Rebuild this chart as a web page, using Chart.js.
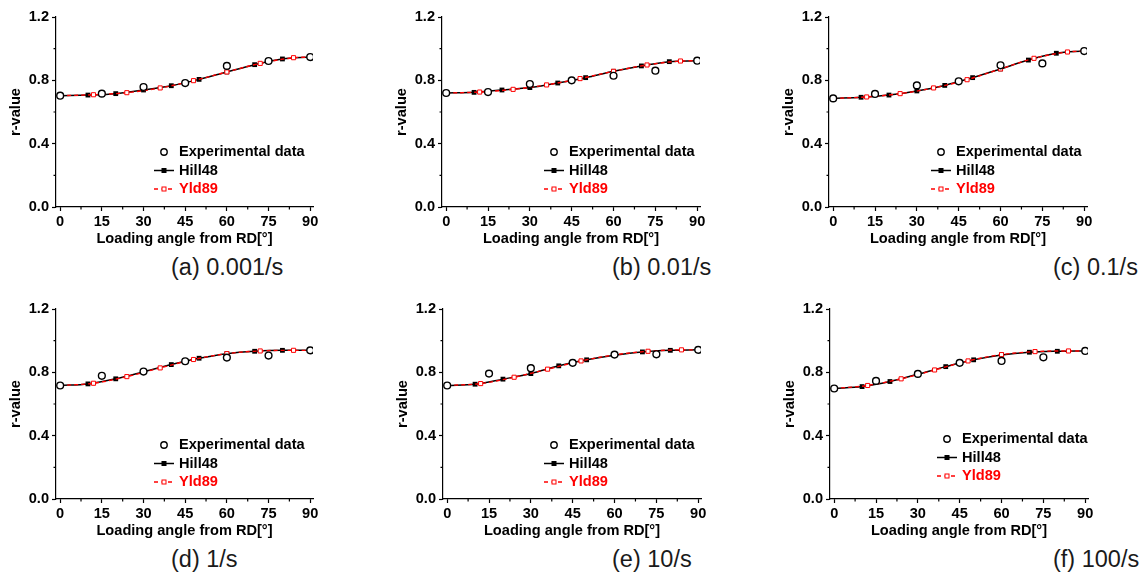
<!DOCTYPE html>
<html>
<head>
<meta charset="utf-8">
<script src="https://cdn.jsdelivr.net/npm/chart.js@4.4.1/dist/chart.umd.min.js"></script>
<style>
  body { margin: 0; background: #fff; width: 1148px; height: 576px; position: relative; overflow: hidden; }
  .panel { position: absolute; }
  .cap { position: absolute; font: 23.5px "Liberation Sans", Arial, sans-serif; color: #1a1a1a; white-space: nowrap; line-height: 24px; }
</style>
</head>
<body>
<script>
// loading angles (deg)
const angleExp = [0, 15, 30, 45, 60, 75, 90]
const angleHill = [0, 10, 20, 30, 40, 50, 60, 70, 80, 90]
const angleYld = [0, 12, 24, 36, 48, 60, 72, 84, 90]
const xTicks = [0, 15, 30, 45, 60, 75, 90]
const yTicks = [0, 0.4, 0.8, 1.2]
const captions = ['(a) 0.001/s', '(b) 0.01/s', '(c) 0.1/s', '(d) 1/s', '(e) 10/s', '(f) 100/s']
const seriesNames = ['Experimental data', 'Hill48', 'Yld89']

// r-values
const exp_a = [0.703, 0.716, 0.758, 0.783, 0.891, 0.922, 0.947]
const hill_a = [0.703, 0.707, 0.716, 0.739, 0.766, 0.806, 0.853, 0.899, 0.935, 0.947]
const yld_a = [0.703, 0.709, 0.722, 0.752, 0.798, 0.853, 0.907, 0.943, 0.947]

const exp_b = [0.720, 0.726, 0.777, 0.800, 0.829, 0.861, 0.924]
const hill_b = [0.720, 0.724, 0.739, 0.754, 0.783, 0.817, 0.857, 0.891, 0.918, 0.924]
const yld_b = [0.720, 0.726, 0.743, 0.771, 0.811, 0.857, 0.897, 0.922, 0.924]

const exp_c = [0.686, 0.714, 0.768, 0.794, 0.895, 0.907, 0.985]
const hill_c = [0.686, 0.693, 0.707, 0.733, 0.768, 0.817, 0.872, 0.928, 0.971, 0.985]
const yld_c = [0.686, 0.695, 0.716, 0.752, 0.804, 0.872, 0.939, 0.979, 0.985]

const exp_d = [0.717, 0.778, 0.805, 0.870, 0.893, 0.906, 0.939]
const hill_d = [0.717, 0.727, 0.759, 0.803, 0.849, 0.889, 0.918, 0.933, 0.939, 0.939]
const yld_d = [0.717, 0.731, 0.773, 0.828, 0.881, 0.918, 0.935, 0.939, 0.939]

const exp_e = [0.717, 0.792, 0.826, 0.860, 0.912, 0.914, 0.942]
const hill_e = [0.717, 0.725, 0.757, 0.792, 0.841, 0.879, 0.908, 0.929, 0.939, 0.942]
const yld_e = [0.717, 0.729, 0.769, 0.820, 0.872, 0.910, 0.933, 0.942, 0.942]

const exp_f = [0.698, 0.746, 0.790, 0.860, 0.872, 0.895, 0.935]
const hill_f = [0.698, 0.710, 0.742, 0.788, 0.836, 0.879, 0.910, 0.927, 0.933, 0.935]
const yld_f = [0.698, 0.717, 0.759, 0.815, 0.872, 0.912, 0.931, 0.935, 0.935]

const panels = [
  { exp: exp_a, hill: hill_a, yld: yld_a, L: 56, T: 17, R: 313, B: 207, lx: 108, ly: 135, cx: 171 },
  { exp: exp_b, hill: hill_b, yld: yld_b, L: 442, T: 17, R: 700, B: 207, lx: 112, ly: 135, cx: 612 },
  { exp: exp_c, hill: hill_c, yld: yld_c, L: 829, T: 17, R: 1087, B: 207, lx: 112, ly: 135, cx: 1053 },
  { exp: exp_d, hill: hill_d, yld: yld_d, L: 56, T: 309, R: 313, B: 499, lx: 108, ly: 136, cx: 171 },
  { exp: exp_e, hill: hill_e, yld: yld_e, L: 443, T: 309, R: 701, B: 499, lx: 111, ly: 136, cx: 612 },
  { exp: exp_f, hill: hill_f, yld: yld_f, L: 830, T: 309, R: 1088, B: 499, lx: 117, ly: 130, cx: 1053 }
]

const FONT = '"Liberation Sans", Arial, sans-serif'
const RED = '#ff0000'
const PAD_L = 56, PAD_T = 12, PAD_R = 12, PAD_B = 45

const toXY = (xs, ys) => xs.map((x, i) => ({ x: x, y: ys[i] }))
// markers only on the inner points, ends hidden under the circles
const innerRadius = (n, r) => Array.from({ length: n }, (_, i) => (i === 0 || i === n - 1) ? 0 : r)

// minor ticks + in-plot legend
const extras = {
  id: 'extras',
  afterDraw(chart, args, opts) {
    const ctx = chart.ctx
    const xs = chart.scales.x, ys = chart.scales.y
    ctx.save()
    ctx.strokeStyle = '#000'
    ctx.lineWidth = 1.2
    ctx.beginPath()
    for (let i = 0; i < xTicks.length - 1; i++) {
      const px = xs.getPixelForValue((xTicks[i] + xTicks[i + 1]) / 2)
      ctx.moveTo(px, ys.bottom)
      ctx.lineTo(px, ys.bottom + 2.5)
    }
    for (let i = 0; i < yTicks.length - 1; i++) {
      const py = ys.getPixelForValue((yTicks[i] + yTicks[i + 1]) / 2)
      ctx.moveTo(xs.left, py)
      ctx.lineTo(xs.left - 2.5, py)
    }
    ctx.stroke()

    const x0 = chart.chartArea.left + opts.lx
    let y0 = chart.chartArea.top + opts.ly
    const gap = 18.5
    ctx.font = 'bold 14.6px ' + FONT
    ctx.textBaseline = 'middle'

    // experimental
    ctx.beginPath()
    ctx.arc(x0, y0, 3.2, 0, Math.PI * 2)
    ctx.lineWidth = 1.4
    ctx.strokeStyle = '#000'
    ctx.stroke()
    ctx.fillStyle = '#000'
    ctx.fillText(seriesNames[0], x0 + 15, y0)

    // Hill48
    y0 += gap
    ctx.beginPath()
    ctx.moveTo(x0 - 10, y0)
    ctx.lineTo(x0 + 10, y0)
    ctx.lineWidth = 1.5
    ctx.stroke()
    ctx.fillRect(x0 - 2.5, y0 - 2.5, 5, 5)
    ctx.fillText(seriesNames[1], x0 + 15, y0)

    // Yld89
    y0 += gap
    ctx.strokeStyle = RED
    ctx.setLineDash([4, 3])
    ctx.beginPath()
    ctx.moveTo(x0 - 10, y0)
    ctx.lineTo(x0 + 10, y0)
    ctx.stroke()
    ctx.setLineDash([])
    ctx.fillStyle = '#fff'
    ctx.fillRect(x0 - 2.5, y0 - 2.5, 5, 5)
    ctx.lineWidth = 1
    ctx.strokeRect(x0 - 2, y0 - 2, 4, 4)
    ctx.fillStyle = RED
    ctx.fillText(seriesNames[2], x0 + 15, y0)
    ctx.restore()
  }
}

panels.forEach((p, k) => {
  const w = (p.R - p.L) + PAD_L + PAD_R
  const h = (p.B - p.T) + PAD_T + PAD_B
  const box = document.createElement('div')
  box.className = 'panel'
  box.style.left = (p.L - PAD_L) + 'px'
  box.style.top = (p.T - PAD_T) + 'px'
  const cv = document.createElement('canvas')
  cv.width = w
  cv.height = h
  cv.style.width = w + 'px'
  cv.style.height = h + 'px'
  box.appendChild(cv)
  document.body.appendChild(box)

  const cap = document.createElement('div')
  cap.className = 'cap'
  cap.textContent = captions[k]
  cap.style.left = p.cx + 'px'
  cap.style.top = (p.B + 48) + 'px'
  document.body.appendChild(cap)

  const tickFont = { family: FONT, size: 14.6, weight: 'bold' }

  new Chart(cv, {
    type: 'line',
    data: {
      datasets: [
        {
          label: seriesNames[0],
          data: toXY(angleExp, p.exp),
          showLine: false,
          pointStyle: 'circle',
          pointRadius: 3.4,
          pointBorderWidth: 1.4,
          pointBorderColor: '#000',
          pointBackgroundColor: '#fff'
        },
        {
          label: seriesNames[2],
          data: toXY(angleYld, p.yld),
          borderColor: RED,
          borderWidth: 1.4,
          borderDash: [4, 3],
          cubicInterpolationMode: 'monotone',
          pointStyle: 'rect',
          pointRadius: innerRadius(angleYld.length, 2.9),
          pointBorderWidth: 1,
          pointBorderColor: RED,
          pointBackgroundColor: '#fff'
        },
        {
          label: seriesNames[1],
          data: toXY(angleHill, p.hill),
          borderColor: '#000',
          borderWidth: 1.5,
          cubicInterpolationMode: 'monotone',
          pointStyle: 'rect',
          pointRadius: innerRadius(angleHill.length, 3.4),
          pointBorderWidth: 0,
          pointBackgroundColor: '#000'
        }
      ]
    },
    options: {
      responsive: false,
      animation: false,
      devicePixelRatio: 1,
      layout: { padding: { left: 0, top: PAD_T, right: PAD_R, bottom: 0 } },
      plugins: {
        legend: { display: false },
        tooltip: { enabled: false },
        extras: { lx: p.lx, ly: p.ly }
      },
      scales: {
        x: {
          type: 'linear',
          min: -1.5,
          max: 91,
          afterBuildTicks: s => { s.ticks = xTicks.map(v => ({ value: v })) },
          afterFit: s => { s.height = PAD_B },
          ticks: { font: tickFont, color: '#000', padding: 2, maxRotation: 0, autoSkip: false, callback: v => String(v) },
          grid: { drawOnChartArea: false, tickLength: 4, tickColor: '#000', tickWidth: 1.2 },
          border: { color: '#000', width: 1.2 },
          title: { display: true, text: 'Loading angle from RD[°]', font: tickFont, color: '#000', padding: { top: 0, bottom: 4 } }
        },
        y: {
          min: 0,
          max: 1.2,
          afterBuildTicks: s => { s.ticks = yTicks.map(v => ({ value: v })) },
          afterFit: s => { s.width = PAD_L },
          ticks: { font: tickFont, color: '#000', padding: 3, callback: v => v.toFixed(1) },
          grid: { drawOnChartArea: false, tickLength: 4, tickColor: '#000', tickWidth: 1.2 },
          border: { color: '#000', width: 1.2 },
          title: { display: true, text: 'r-value', font: tickFont, color: '#000', padding: { top: 7, bottom: 0 } }
        }
      }
    },
    plugins: [extras]
  })
})
</script>
</body>
</html>
